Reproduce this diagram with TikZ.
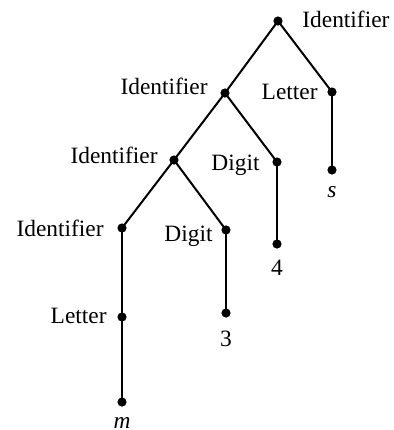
\documentclass[tikz,border=0pt]{standalone}
\usepackage{fontspec}
\setmainfont{Liberation Serif}
\usetikzlibrary{positioning}

\begin{document}
\begin{tikzpicture}[
    x=0.5pt, y=-0.5pt,
    dot/.style={circle, fill=black, inner sep=0pt, minimum size=4.6pt},
    lab/.style={font=\fontsize{11.7}{14}\selectfont, inner sep=0pt},
    leaf/.style={font=\fontsize{11.7}{14}\selectfont\itshape, inner sep=0pt},
    edge/.style={line width=1pt},
]
\useasboundingbox (0,0) rectangle (394,430);

% Dots
\node[dot] (root) at (278, 21) {};
\node[dot] (id2) at (225, 93) {};
\node[dot] (let1) at (332, 92) {};
\node[dot] (s) at (332, 170) {};
\node[dot] (id3) at (174, 160) {};
\node[dot] (dig4) at (277, 162) {};
\node[dot] (four) at (277, 244) {};
\node[dot] (id4) at (122, 228) {};
\node[dot] (dig3) at (226, 230) {};
\node[dot] (three) at (226, 313) {};
\node[dot] (let2) at (122, 317) {};
\node[dot] (m) at (122, 402) {};

% Labels
\node[lab, anchor=base west] (rootlab) at (302, 27) {Identifier};
\node[lab, anchor=base east] (id2lab) at (208, 94) {Identifier};
\node[lab, anchor=base east] (let1lab) at (318, 99) {Letter};
\node[leaf, anchor=base] (slab) at (332, 197) {s};
\node[lab, anchor=base east] (id3lab) at (158, 163) {Identifier};
\node[lab, anchor=base east] (dig4lab) at (260, 170) {Digit};
\node[lab, anchor=base] (fourlab) at (277, 275) {4};
\node[lab, anchor=base east] (id4lab) at (104, 236) {Identifier};
\node[lab, anchor=base east] (dig3lab) at (213, 241) {Digit};
\node[lab, anchor=base] (threelab) at (226, 346) {3};
\node[lab, anchor=base east] (let2lab) at (107, 323) {Letter};
\node[leaf, anchor=base] (mlab) at (122, 428) {m};

% Edges
\draw[edge] (root.center) -- (id2.center);
\draw[edge] (root.center) -- (let1.center);
\draw[edge] (let1.center) -- (s.center);
\draw[edge] (id2.center) -- (id3.center);
\draw[edge] (id2.center) -- (dig4.center);
\draw[edge] (dig4.center) -- (four.center);
\draw[edge] (id3.center) -- (id4.center);
\draw[edge] (id3.center) -- (dig3.center);
\draw[edge] (dig3.center) -- (three.center);
\draw[edge] (id4.center) -- (let2.center);
\draw[edge] (let2.center) -- (m.center);

\end{tikzpicture}
\end{document}
